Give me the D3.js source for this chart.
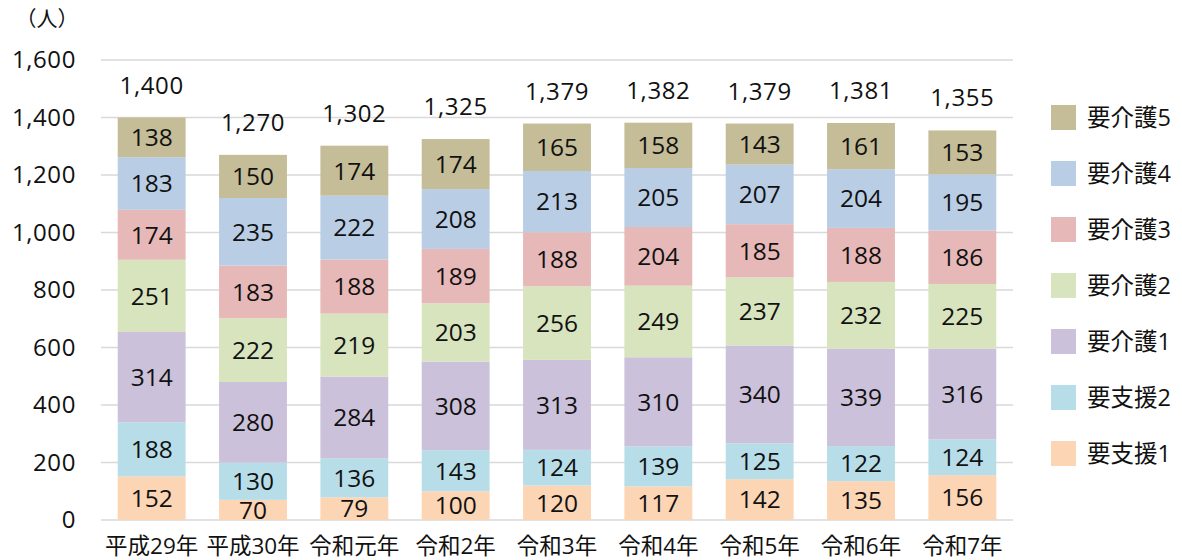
<!DOCTYPE html>
<html>
<head>
<meta charset="utf-8">
<script src="https://cdn.jsdelivr.net/npm/d3@7"></script>
<style>
  body { margin: 0; background: #fff; }
  svg { display: block; font-family: 'Open Sans', 'Noto Sans CJK JP', sans-serif; }
</style>
</head>
<body>
<svg id="chart" width="1182" height="560"></svg>
<script>
const years = ['平成29年', '平成30年', '令和元年', '令和2年', '令和3年', '令和4年', '令和5年', '令和6年', '令和7年'];
const keys = ['要支援1', '要支援2', '要介護1', '要介護2', '要介護3', '要介護4', '要介護5'];
const colors = ['#fcd5b5', '#b7dee8', '#ccc1da', '#d7e4bd', '#e6b9b8', '#b9cde5', '#c4bd97'];

const shien1 = [152, 70, 79, 100, 120, 117, 142, 135, 156];
const shien2 = [188, 130, 136, 143, 124, 139, 125, 122, 124];
const kaigo1 = [314, 280, 284, 308, 313, 310, 340, 339, 316];
const kaigo2 = [251, 222, 219, 203, 256, 249, 237, 232, 225];
const kaigo3 = [174, 183, 188, 189, 188, 204, 185, 188, 186];
const kaigo4 = [183, 235, 222, 208, 213, 205, 207, 204, 195];
const kaigo5 = [138, 150, 174, 174, 165, 158, 143, 161, 153];
const totals = [1400, 1270, 1302, 1325, 1379, 1382, 1379, 1381, 1355];

const yTicks = [0, 200, 400, 600, 800, 1000, 1200, 1400, 1600];

const series = [shien1, shien2, kaigo1, kaigo2, kaigo3, kaigo4, kaigo5];
const data = years.map((y, i) => {
  const row = { year: y, total: totals[i] };
  keys.forEach((k, j) => { row[k] = series[j][i]; });
  return row;
});

const svg = d3.select('#chart');
const margin = { top: 60, left: 101, right: 169, bottom: 40 };
const width = 1182 - margin.left - margin.right;
const height = 560 - margin.top - margin.bottom;

const g = svg.append('g')
  .attr('transform', `translate(${margin.left},${margin.top})`);

const x = d3.scaleBand()
  .domain(years)
  .range([0, width])
  .paddingInner(0.33)
  .paddingOuter(0.165);

const y = d3.scaleLinear()
  .domain([0, 1600])
  .range([height, 0]);

const color = d3.scaleOrdinal().domain(keys).range(colors);

// grid
g.append('g')
  .selectAll('line')
  .data(yTicks)
  .enter().append('line')
    .attr('x1', 0)
    .attr('x2', width)
    .attr('y1', d => y(d))
    .attr('y2', d => y(d))
    .attr('stroke', '#d9d9d9')
    .attr('stroke-width', 1.5);

// y axis labels
const yAxis = g.append('g')
  .call(d3.axisLeft(y).tickValues(yTicks).tickFormat(d3.format(',')).tickSize(0).tickPadding(25));
yAxis.select('.domain').remove();
yAxis.selectAll('text')
  .attr('font-size', 24)
  .attr('letter-spacing', 0.6)
  .attr('fill', '#111')
  .attr('font-family', "'Open Sans', 'Noto Sans CJK JP', sans-serif");

svg.append('text')
  .attr('x', 47)
  .attr('y', 26)
  .attr('text-anchor', 'middle')
  .attr('font-size', 21)
  .attr('fill', '#111')
  .text('（人）');

// x axis labels
const xAxis = g.append('g')
  .attr('transform', `translate(0,${height})`)
  .call(d3.axisBottom(x).tickSize(0).tickPadding(18));
xAxis.select('.domain').remove();
xAxis.selectAll('text')
  .attr('font-size', 22.5)
  .attr('fill', '#111')
  .attr('font-family', "'Open Sans', 'Noto Sans CJK JP', sans-serif");

// stacked bars
const stacked = d3.stack().keys(keys)(data);

const layer = g.selectAll('.layer')
  .data(stacked)
  .enter().append('g')
    .attr('class', 'layer')
    .attr('fill', d => color(d.key));

layer.selectAll('rect')
  .data(d => d)
  .enter().append('rect')
    .attr('x', d => x(d.data.year))
    .attr('width', x.bandwidth())
    .attr('y', d => y(d[1]))
    .attr('height', d => y(d[0]) - y(d[1]));

layer.selectAll('text')
  .data(d => d)
  .enter().append('text')
    .attr('x', d => x(d.data.year) + x.bandwidth() / 2)
    .attr('y', d => (y(d[0]) + y(d[1])) / 2)
    .attr('dy', '0.36em')
    .attr('text-anchor', 'middle')
    .attr('font-size', 24.5)
    .attr('fill', '#111')
    .text(d => d[1] - d[0]);

// totals
g.append('g')
  .selectAll('text')
  .data(data)
  .enter().append('text')
    .attr('x', d => x(d.year) + x.bandwidth() / 2)
    .attr('y', d => y(d.total) - 24)
    .attr('text-anchor', 'middle')
    .attr('font-size', 24)
    .attr('letter-spacing', 0.6)
    .attr('fill', '#111')
    .text(d => d3.format(',')(d.total));

// legend
const legend = svg.append('g')
  .attr('transform', 'translate(1051,105)')
  .selectAll('g')
  .data(keys.slice().reverse())
  .enter().append('g')
    .attr('transform', (d, i) => `translate(0,${i * 56})`);

legend.append('rect')
  .attr('width', 25)
  .attr('height', 25)
  .attr('fill', d => color(d));

legend.append('text')
  .attr('x', 36)
  .attr('y', 12.5)
  .attr('dy', '0.36em')
  .attr('font-size', 23.5)
  .attr('fill', '#111')
  .text(d => d);
</script>
</body>
</html>
